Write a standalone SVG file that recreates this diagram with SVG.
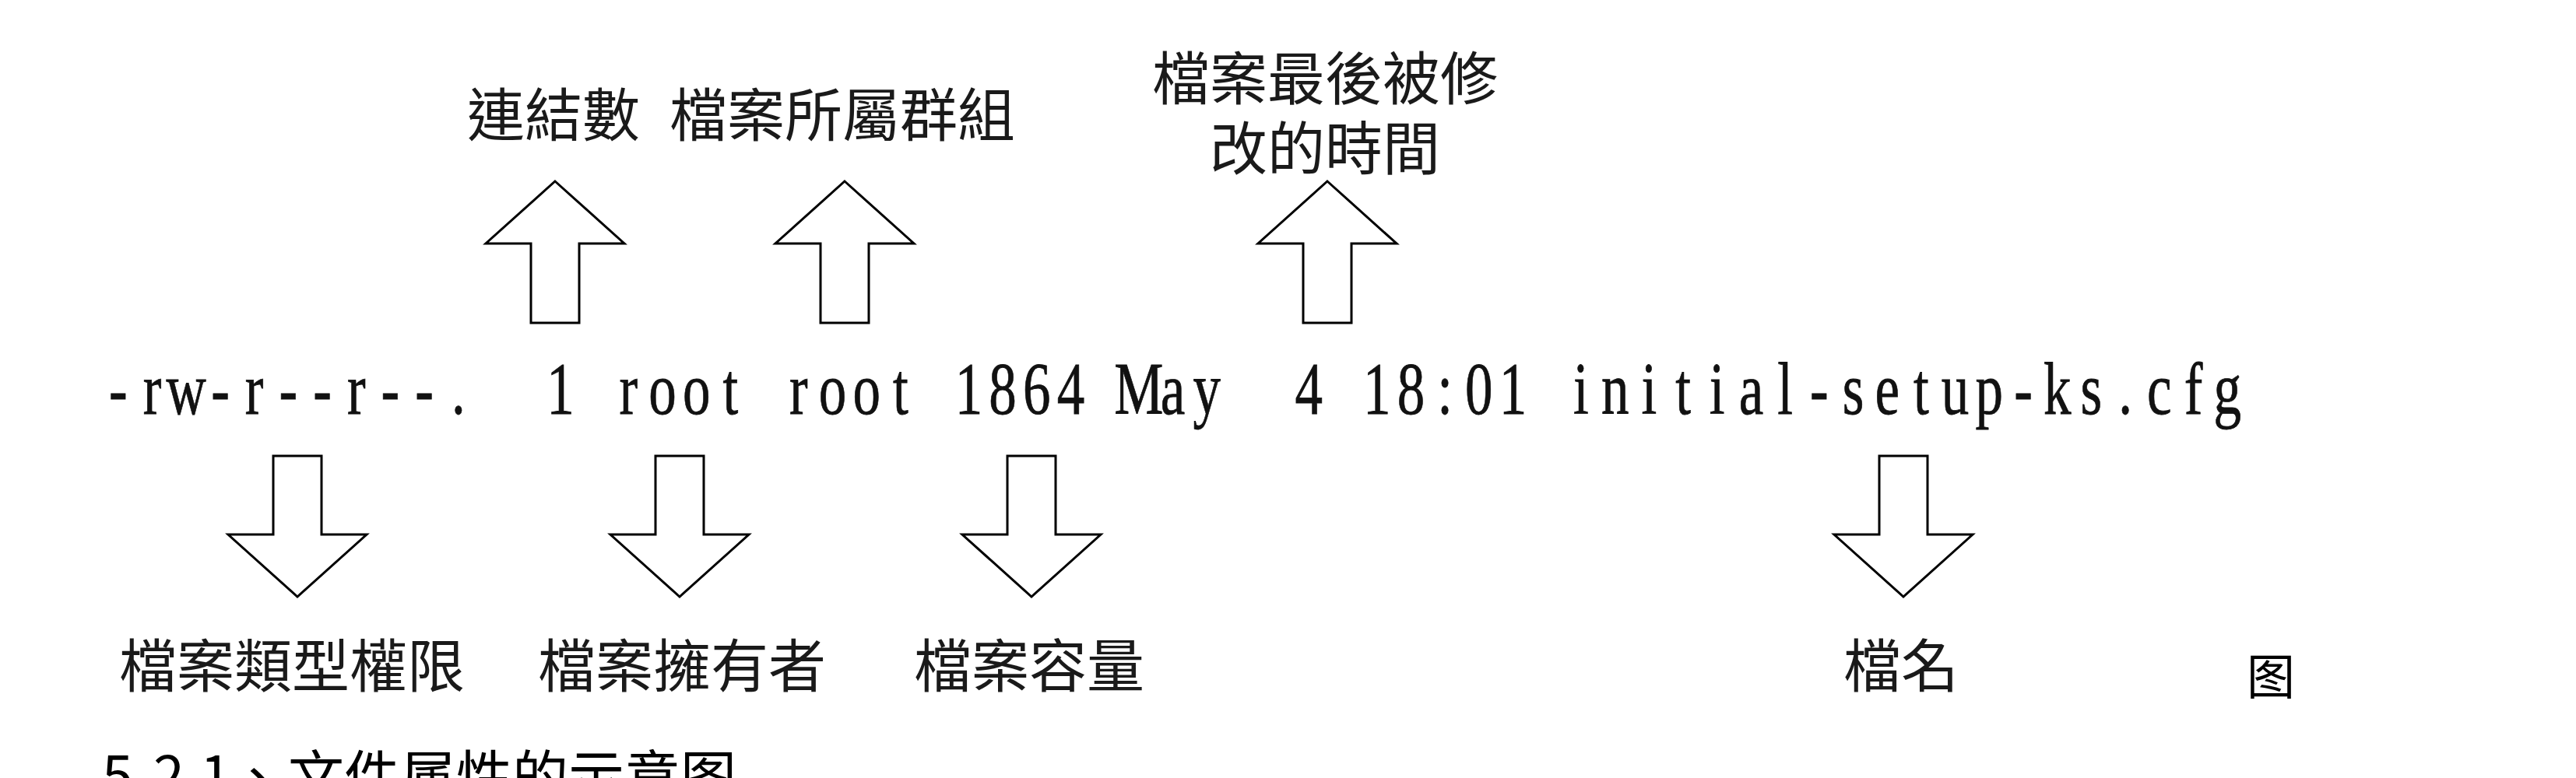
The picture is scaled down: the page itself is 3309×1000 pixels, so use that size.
<svg xmlns="http://www.w3.org/2000/svg" xmlns:xlink="http://www.w3.org/1999/xlink" width="3309" height="1000" viewBox="0 0 3309 1000">
  <style>
    .lbl { font-family: "Noto Sans CJK TC", "Noto Sans CJK SC", sans-serif; font-size: 74px; fill: #1a1a1a; }
    .mid { text-anchor: middle; }
    .cmd { font-family: "Liberation Serif", "DejaVu Serif", serif; font-size: 96px; fill: #111; stroke: #111; stroke-width: 0.8; white-space: pre; text-anchor: middle; }
    .cap { font-family: "Noto Sans CJK TC", "Noto Sans CJK SC", sans-serif; font-size: 72px; fill: #000; }
    .arrow { fill: #fff; stroke: #000; stroke-width: 3; stroke-linejoin: miter; }
  </style>
  <defs>
    <path id="arrowUp" d="M0,0 L89,80 L31,80 L31,182 L-31,182 L-31,80 L-89,80 Z"/>
    <path id="arrowDown" d="M-31,0 L31,0 L31,101 L89,101 L0,181 L-89,101 L-31,101 Z"/>
  </defs>
  <rect width="3309" height="1000" fill="#fff"/>

  <g id="connectors">
    <use class="arrow" xlink:href="#arrowUp" href="#arrowUp" x="713" y="233"/>
    <use class="arrow" xlink:href="#arrowUp" href="#arrowUp" x="1085" y="233"/>
    <use class="arrow" xlink:href="#arrowUp" href="#arrowUp" x="1705" y="233"/>
    <use class="arrow" xlink:href="#arrowDown" href="#arrowDown" x="382" y="586"/>
    <use class="arrow" xlink:href="#arrowDown" href="#arrowDown" x="873" y="586"/>
    <use class="arrow" xlink:href="#arrowDown" href="#arrowDown" x="1325" y="586"/>
    <use class="arrow" xlink:href="#arrowDown" href="#arrowDown" x="2445" y="586"/>
  </g>

  <g id="node-links">
    <text class="lbl" x="600" y="175">連結數</text>
  </g>
  <g id="node-group">
    <text class="lbl" x="860" y="175">檔案所屬群組</text>
  </g>
  <g id="node-mtime">
    <text class="lbl mid"><tspan x="1702" y="128">檔案最後被修</tspan><tspan x="1702" y="218">改的時間</tspan></text>
  </g>

  <g id="node-listing" transform="scale(0.74,1)">
    <text class="cmd" y="532" xml:space="preserve" x="205.2 264.3 323.3 382.4 441.4 500.5 559.5 618.6 677.6 736.7 795.7 854.8 913.9 972.9 1032.0 1091.0 1150.1 1209.1 1268.2 1327.2 1386.3 1445.3 1504.4 1563.4 1622.5 1681.6 1740.6 1799.7 1858.7 1917.8 1976.8 2035.9 2094.9 2154.0 2213.0 2272.1 2331.1 2390.2 2449.3 2508.3 2567.4 2626.4 2685.5 2744.5 2803.6 2862.6 2921.7 2980.7 3039.8 3098.8 3157.9 3217.0 3276.0 3335.1 3394.1 3453.2 3512.2 3571.3 3630.3 3689.4 3748.4 3807.5 3866.5">-rw-r--r--.  1 root root 1864 May  4 18:01 initial-setup-ks.cfg</text>
  </g>

  <g id="node-perm">
    <text class="lbl mid" x="375" y="883">檔案類型權限</text>
  </g>
  <g id="node-owner">
    <text class="lbl mid" x="876" y="883">檔案擁有者</text>
  </g>
  <g id="node-size">
    <text class="lbl mid" x="1322" y="883">檔案容量</text>
  </g>
  <g id="node-name">
    <text class="lbl mid" x="2442" y="883">檔名</text>
  </g>

  <g id="caption">
    <text class="cap" x="2886" y="893" style="font-size:62px">图</text>
    <text class="cap" y="1024"><tspan x="131">5</tspan><tspan x="170">.</tspan><tspan x="197">2</tspan><tspan x="236">.</tspan><tspan x="257">1</tspan><tspan x="296">、</tspan><tspan x="370">文件属性的示意图</tspan></text>
  </g>
</svg>
